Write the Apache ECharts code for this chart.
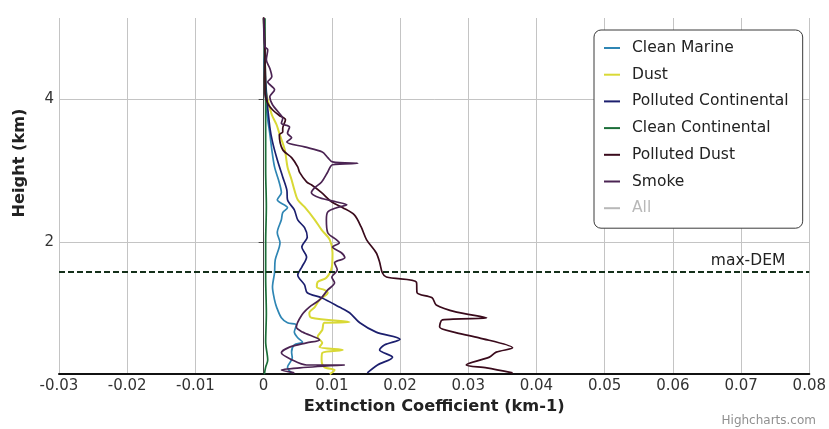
<!DOCTYPE html>
<html>
<head>
<meta charset="utf-8">
<script src="https://cdn.jsdelivr.net/npm/echarts@6/dist/echarts.min.js"></script>
<style>
  html, body { margin: 0; padding: 0; background: #fff; }
  #chart { width: 829px; height: 429px; }
</style>
</head>
<body>
<div id="chart"></div>
<script>
// Extinction profiles: [extinction (km-1), height (km)], top of profile first
const cleanMarine = [
  [0.0000, 5.13], [0.0001, 4.55], [0.0003, 4.00], [0.0006, 3.71], [0.0009, 3.52],
  [0.0012, 3.29], [0.0016, 3.05], [0.0023, 2.83], [0.0026, 2.69], [0.0020, 2.59],
  [0.0035, 2.48], [0.0028, 2.41], [0.0026, 2.31], [0.0020, 2.13], [0.0024, 1.99],
  [0.0017, 1.75], [0.0016, 1.57], [0.0013, 1.37], [0.0016, 1.19], [0.0019, 1.09],
  [0.0026, 0.94], [0.0035, 0.87], [0.0048, 0.84], [0.0045, 0.74], [0.0050, 0.66],
  [0.0057, 0.60], [0.0045, 0.56], [0.0041, 0.46], [0.0042, 0.38], [0.0035, 0.25],
  [0.0041, 0.17]
];
const dust = [
  [0.0000, 5.13], [0.0002, 4.55], [0.0003, 4.13], [0.0006, 3.99], [0.0012, 3.78],
  [0.0019, 3.64], [0.0023, 3.52], [0.0031, 3.29], [0.0035, 3.05], [0.0041, 2.87],
  [0.0045, 2.73], [0.0050, 2.59], [0.0060, 2.49], [0.0075, 2.31], [0.0085, 2.17],
  [0.0097, 2.03], [0.0101, 1.85], [0.0100, 1.65], [0.0092, 1.50], [0.0079, 1.44],
  [0.0078, 1.37], [0.0089, 1.33], [0.0094, 1.29], [0.0082, 1.19], [0.0075, 1.09],
  [0.0067, 1.01], [0.0070, 0.94], [0.0126, 0.88], [0.0089, 0.87], [0.0086, 0.77],
  [0.0079, 0.67], [0.0086, 0.59], [0.0082, 0.53], [0.0116, 0.49], [0.0086, 0.45],
  [0.0085, 0.35], [0.0089, 0.25], [0.0104, 0.21], [0.0097, 0.15]
];
const pollutedContinental = [
  [0.0000, 5.13], [0.0002, 4.55], [0.0004, 4.10], [0.0009, 3.61], [0.0013, 3.40],
  [0.0020, 3.15], [0.0028, 2.91], [0.0034, 2.73], [0.0035, 2.59], [0.0045, 2.45],
  [0.0050, 2.31], [0.0060, 2.20], [0.0064, 2.07], [0.0056, 1.93], [0.0063, 1.79],
  [0.0056, 1.65], [0.0050, 1.54], [0.0060, 1.40], [0.0064, 1.29], [0.0085, 1.22],
  [0.0111, 1.09], [0.0126, 1.01], [0.0141, 0.87], [0.0165, 0.74], [0.0200, 0.64],
  [0.0177, 0.56], [0.0170, 0.49], [0.0189, 0.39], [0.0167, 0.28], [0.0152, 0.17]
];
const cleanContinental = [
  [0.0002, 5.13], [0.0002, 4.50], [0.0003, 4.00], [0.0003, 3.50], [0.0003, 3.00],
  [0.0004, 2.50], [0.0003, 2.00], [0.0003, 1.50], [0.0004, 1.00], [0.0003, 0.60],
  [0.0006, 0.35], [0.0003, 0.25], [0.0001, 0.15]
];
const pollutedDust = [
  [0.0000, 5.15], [0.0001, 4.97], [0.0002, 4.55], [0.0002, 4.08], [0.0006, 3.94],
  [0.0013, 3.85], [0.0023, 3.77], [0.0032, 3.71], [0.0028, 3.59], [0.0028, 3.54],
  [0.0023, 3.50], [0.0028, 3.29], [0.0041, 3.18], [0.0050, 3.05], [0.0053, 2.97],
  [0.0063, 2.84], [0.0070, 2.80], [0.0085, 2.69], [0.0100, 2.56], [0.0116, 2.48],
  [0.0133, 2.38], [0.0143, 2.21], [0.0151, 2.03], [0.0165, 1.85], [0.0170, 1.72],
  [0.0174, 1.57], [0.0180, 1.51], [0.0224, 1.44], [0.0225, 1.29], [0.0247, 1.22],
  [0.0253, 1.12], [0.0283, 1.02], [0.0327, 0.94], [0.0262, 0.91], [0.0258, 0.81],
  [0.0283, 0.73], [0.0316, 0.66], [0.0365, 0.52], [0.0341, 0.46], [0.0331, 0.39],
  [0.0297, 0.28], [0.0327, 0.24], [0.0365, 0.17]
];
const smoke = [
  [0.0000, 5.13], [0.0002, 4.73], [0.0006, 4.69], [0.0004, 4.55], [0.0009, 4.43],
  [0.0012, 4.31], [0.0006, 4.24], [0.0016, 4.13], [0.0009, 4.03], [0.0013, 3.92],
  [0.0023, 3.80], [0.0028, 3.73], [0.0026, 3.66], [0.0038, 3.61], [0.0035, 3.52],
  [0.0041, 3.46], [0.0034, 3.40], [0.0060, 3.33], [0.0086, 3.26], [0.0094, 3.18],
  [0.0101, 3.12], [0.0138, 3.10], [0.0101, 3.08], [0.0094, 2.98], [0.0085, 2.84],
  [0.0075, 2.76], [0.0070, 2.69], [0.0082, 2.62], [0.0107, 2.56], [0.0122, 2.52],
  [0.0107, 2.48], [0.0094, 2.42], [0.0092, 2.31], [0.0094, 2.13], [0.0107, 2.03],
  [0.0111, 1.99], [0.0101, 1.93], [0.0114, 1.85], [0.0119, 1.78], [0.0104, 1.71],
  [0.0108, 1.61], [0.0100, 1.51], [0.0104, 1.43], [0.0094, 1.33], [0.0082, 1.19],
  [0.0067, 1.09], [0.0056, 0.98], [0.0048, 0.81], [0.0057, 0.74], [0.0082, 0.63],
  [0.0063, 0.59], [0.0038, 0.53], [0.0026, 0.45], [0.0042, 0.35], [0.0063, 0.28],
  [0.0119, 0.28], [0.0053, 0.24], [0.0026, 0.21], [0.0045, 0.17]
];

// Axis settings and the terrain reference level
const xTicks = { min: -0.03, max: 0.08, step: 0.01 };
const heightRange = [0.154, 5.133];
const heightTickValues = [2, 4];
const maxDemKm = 1.58;

const seriesNames = ['Clean Marine', 'Dust', 'Polluted Continental',
  'Clean Continental', 'Polluted Dust', 'Smoke', 'All'];
const seriesColors = ['#2f86b4', '#d9d936', '#1c1f6e', '#1b6e38', '#3a0b1c', '#4b2453', '#9a9a9a'];
const seriesData = [cleanMarine, dust, pollutedContinental, cleanContinental, pollutedDust, smoke, []];

const FONT = 'DejaVu Sans';

const series = seriesNames.map((name, i) => {
  const s = {
    name,
    type: 'line',
    data: seriesData[i],
    color: seriesColors[i],
    showSymbol: false,
    symbol: 'none',
    smooth: 0.3,
    lineStyle: { width: name === 'All' ? 3 : (name === 'Dust' ? 2 : 1.7), color: seriesColors[i] },
    emphasis: { disabled: true },
    z: 3
  };
  if (name === 'Clean Continental') {
    s.markLine = {
      silent: true,
      symbol: 'none',
      animation: false,
      lineStyle: { type: [6, 3], color: '#14301a', width: 2 },
      label: {
        show: true,
        formatter: 'max-DEM',
        position: 'insideEndTop',
        color: '#222',
        fontFamily: FONT,
        fontSize: 15.5,
        distance: [24, 3]
      },
      data: [{ yAxis: maxDemKm }]
    };
  }
  return s;
});

const chart = echarts.init(document.getElementById('chart'), null, { renderer: 'canvas' });
chart.setOption({
  animation: false,
  backgroundColor: '#fff',
  grid: { left: 59, right: 19, top: 18, bottom: 55, containLabel: false },
  xAxis: {
    type: 'value',
    min: xTicks.min,
    max: xTicks.max,
    interval: xTicks.step,
    name: 'Extinction Coefficient (km-1)',
    nameLocation: 'middle',
    nameGap: 25,
    nameTextStyle: { fontFamily: FONT, fontWeight: 'bold', fontSize: 16.2, color: '#222' },
    axisLine: { show: true, lineStyle: { color: '#111', width: 2 } },
    axisTick: { show: false },
    axisLabel: {
      fontFamily: FONT, fontSize: 15, color: '#333', margin: 5,
      formatter: v => String(Math.round(v * 100) / 100)
    },
    splitLine: { show: true, lineStyle: { color: '#c4c4c4', width: 1 } }
  },
  yAxis: {
    type: 'value',
    min: heightRange[0],
    max: heightRange[1],
    axisLine: { show: true, lineStyle: { color: '#444', width: 1 } },
    axisTick: { show: true, length: 5, customValues: heightTickValues, lineStyle: { color: '#444' } },
    axisLabel: {
      fontFamily: FONT, fontSize: 15, color: '#333', margin: 5,
      customValues: heightTickValues
    },
    splitLine: { show: true, lineStyle: { color: '#c4c4c4', width: 1 } }
  },
  legend: {
    orient: 'vertical',
    left: 594,
    top: 30,
    padding: [9, 14, 11, 10],
    icon: 'rect',
    itemWidth: 16,
    itemHeight: 2,
    itemGap: 8.7,
    backgroundColor: '#fff',
    borderColor: '#3a3a3a',
    borderWidth: 1,
    borderRadius: 7,
    inactiveColor: '#b8b8b8',
    selected: { 'All': false },
    textStyle: { fontFamily: FONT, fontSize: 15.5, color: '#222', lineHeight: 18, padding: [0, 0, 0, 7] },
    data: seriesNames
  },
  graphic: [
    {
      type: 'text',
      x: 20,
      y: 163,
      rotation: Math.PI / 2,
      style: {
        text: 'Height (km)',
        font: 'bold 16.2px "DejaVu Sans"',
        fill: '#222',
        align: 'center',
        verticalAlign: 'middle'
      }
    },
    {
      type: 'text',
      right: 13,
      bottom: 2,
      style: {
        text: 'Highcharts.com',
        font: '12px "DejaVu Sans"',
        fill: '#909090'
      }
    }
  ],
  series
});
</script>
</body>
</html>
